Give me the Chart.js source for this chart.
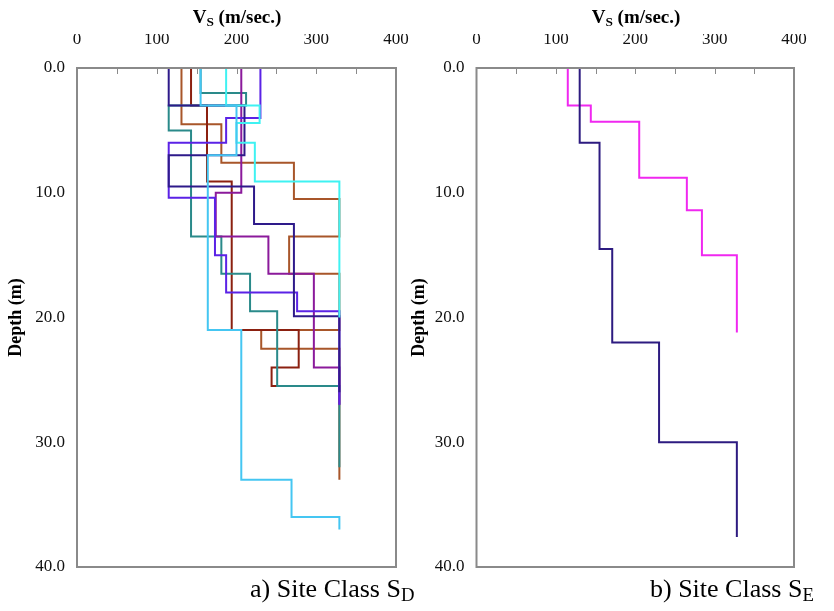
<!DOCTYPE html>
<html><head><meta charset="utf-8">
<script src="https://cdn.jsdelivr.net/npm/chart.js@4.4.0/dist/chart.umd.min.js"></script>
<style>
body{margin:0;background:#fff;width:834px;height:611px;position:relative;overflow:hidden;font-family:"Liberation Serif","Times New Roman",serif;color:#000;}
#c1{position:absolute;left:0;top:0;}
#c2{position:absolute;left:403px;top:0;}
.xt{position:absolute;top:6px;font-weight:bold;font-size:19px;transform:translateX(-50%);white-space:nowrap;}
.cap{position:absolute;top:574px;font-size:26px;white-space:nowrap;}
.xt sub{font-size:0.7em;vertical-align:-0.2em;}
.cap sub{font-size:0.72em;vertical-align:-0.22em;}
</style></head>
<body>
<canvas id="c1" width="410" height="611"></canvas>
<canvas id="c2" width="431" height="611"></canvas>
<div class="xt" style="left:237px">V<sub>S</sub> (m/sec.)</div>
<div class="xt" style="left:636px">V<sub>S</sub> (m/sec.)</div>
<div class="cap" style="left:250px">a) Site Class S<sub>D</sub></div>
<div class="cap" style="left:650px">b) Site Class S<sub>E</sub></div>
<script>
// Axis ticks
const vsTicks = [0, 100, 200, 300, 400];
const depthTicks = [0, 10, 20, 30, 40];

// Site class SD profiles: layer boundary depths (m) and layer Vs (m/s)
const sdNavyDepths = [0, 3, 7, 9.5, 12.5, 19.9, 26];
const sdNavyVs     = [115, 210, 115, 222, 272, 329];
const sdVioletDepths = [0, 4, 6, 10.4, 15, 18, 19.5, 27];
const sdVioletVs     = [230, 187, 115, 173, 187, 276, 329];
const sdSiennaDepths = [0, 4.5, 7.6, 10.5, 13.5, 16.5, 21, 22.5, 33];
const sdSiennaVs     = [131, 181, 272, 329, 266, 329, 231, 329];
const sdMaroonDepths = [0, 3, 9.1, 21, 24, 25.5, 25.5];
const sdMaroonVs     = [143, 163, 194, 278, 244, 251];
const sdTealDepths = [0, 2, 3, 5, 13.5, 16.5, 19.5, 25.5, 32];
const sdTealVs     = [155, 212, 115, 143, 181, 217, 251, 329];
const sdCyanDepths = [0, 3, 4.4, 6, 9.1, 20];
const sdCyanVs     = [187, 229, 200, 223, 329];
const sdSkyDepths = [0, 3, 7, 21, 33, 36, 37];
const sdSkyVs     = [155, 200, 164, 206, 269, 329];
const sdPurpleDepths = [0, 10, 13.5, 16.5, 24, 27];
const sdPurpleVs     = [206, 174, 240, 297, 329];

// Site class SE profiles
const seNavyDepths = [0, 6, 14.5, 22, 30, 37.6];
const seNavyVs     = [130, 155, 171, 230, 328];
const seMagentaDepths = [0, 3, 4.3, 8.8, 11.4, 15, 21.2];
const seMagentaVs     = [115, 144, 205, 265, 284, 328];

function profile(depths, vs) {
  const pts = [];
  for (let i = 0; i < vs.length; i++) {
    pts.push({x: vs[i], y: depths[i]});
    pts.push({x: vs[i], y: depths[i + 1]});
  }
  return pts;
}
function ds(depths, vs, color) {
  return {data: profile(depths, vs), borderColor: color, borderWidth: 2, pointRadius: 0,
          showLine: true, fill: false, tension: 0};
}

const framePlugin = {
  id: 'frame',
  afterDatasetsDraw(chart) {
    const {ctx, chartArea: a} = chart;
    const xs = chart.scales.x;
    ctx.save();
    ctx.strokeStyle = '#8a8a8a';
    ctx.lineWidth = 1;
    for (let v = 50; v < 400; v += 50) {
      const px = Math.round(xs.getPixelForValue(v)) + 0.5;
      ctx.beginPath(); ctx.moveTo(px, a.top); ctx.lineTo(px, a.top + 6); ctx.stroke();
    }
    ctx.lineWidth = 2;
    ctx.strokeRect(a.left, a.top, a.right - a.left, a.bottom - a.top);
    ctx.restore();
  }
};

const tickFont = {family: '"Liberation Serif","Times New Roman",serif', size: 17};
function makeOptions(yWidth, padRight) {
  return {
    responsive: false, animation: false,
    layout: {padding: {top: 34, bottom: 44, left: 0, right: padRight}},
    plugins: {legend: {display: false}, tooltip: {enabled: false}},
    scales: {
      x: {type: 'linear', position: 'top', min: vsTicks[0], max: vsTicks[vsTicks.length - 1],
          afterFit: s => { s.height = 34; s.paddingLeft = 0; s.paddingRight = 0; },
          afterBuildTicks: s => { s.ticks = vsTicks.map(v => ({value: v})); },
          grid: {display: false, drawTicks: false}, border: {display: false},
          ticks: {font: tickFont, color: '#111', padding: 18, maxRotation: 0}},
      y: {type: 'linear', reverse: true, min: depthTicks[0], max: depthTicks[depthTicks.length - 1],
          afterFit: s => { s.width = yWidth; s.paddingTop = 0; s.paddingBottom = 0; },
          afterBuildTicks: s => { s.ticks = depthTicks.map(v => ({value: v})); },
          grid: {display: false, drawTicks: false}, border: {display: false},
          ticks: {font: tickFont, color: '#111', padding: 12, callback: v => Number(v).toFixed(1)},
          title: {display: true, text: 'Depth (m)', color: '#000',
                  font: {family: '"Liberation Serif","Times New Roman",serif', size: 18, weight: 'bold'},
                  padding: {top: 6, bottom: 0}}}
    }
  };
}

new Chart(document.getElementById('c1'), {
  type: 'scatter',
  data: {datasets: [
    ds(sdSkyDepths, sdSkyVs, '#45c6f2'),
    ds(sdCyanDepths, sdCyanVs, '#3ff2f2'),
    ds(sdNavyDepths, sdNavyVs, '#2e1a8a'),
    ds(sdVioletDepths, sdVioletVs, '#5b22e6'),
    ds(sdPurpleDepths, sdPurpleVs, '#8b1a9b'),
    ds(sdTealDepths, sdTealVs, '#2a8a8a'),
    ds(sdMaroonDepths, sdMaroonVs, '#8b2010'),
    ds(sdSiennaDepths, sdSiennaVs, '#a8562a')
  ]},
  options: makeOptions(77, 14),
  plugins: [framePlugin]
});

new Chart(document.getElementById('c2'), {
  type: 'scatter',
  data: {datasets: [
    ds(seNavyDepths, seNavyVs, '#2d1b80'),
    ds(seMagentaDepths, seMagentaVs, '#f028f0')
  ]},
  options: makeOptions(73.5, 40),
  plugins: [framePlugin]
});
</script>
</body></html>
